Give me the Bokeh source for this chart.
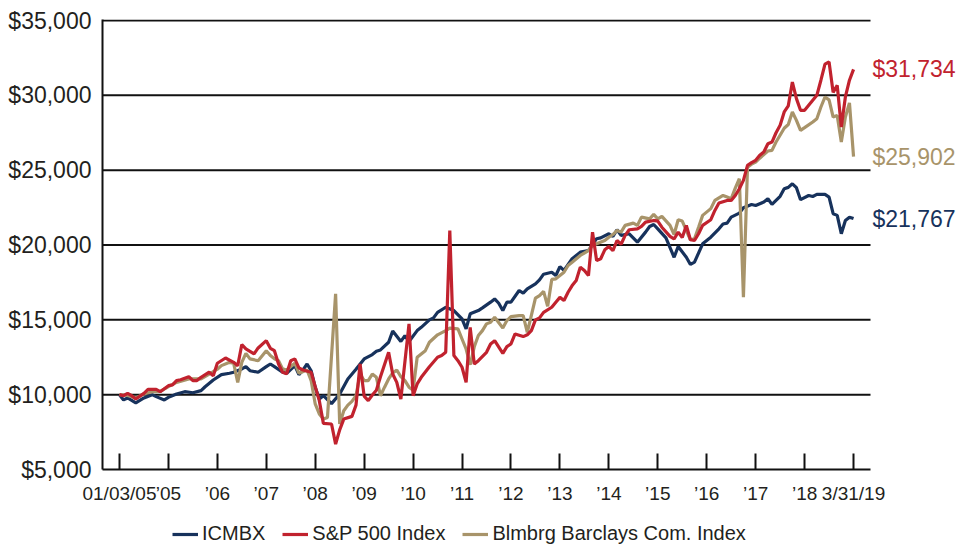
from bokeh.plotting import figure
from bokeh.layouts import column
from bokeh.models import (FixedTicker, NumeralTickFormatter, Range1d, Legend,
                          LegendItem)
from bokeh.core.properties import value
from bokeh.embed import file_html
from bokeh.resources import INLINE

# ---------------- data (month index from 01/03/05) ----------------
x_tick_months = [0, 12, 24, 36, 48, 60, 72, 84, 96, 108, 120, 132, 144, 156, 168, 180]
x_tick_labels = ["01/03/05", "\u201905", "\u201906", "\u201907", "\u201908", "\u201909",
                 "\u201910", "\u201911", "\u201912", "\u201913", "\u201914", "\u201915",
                 "\u201916", "\u201917", "\u201918", "3/31/19"]
y_ticks = [5000, 10000, 15000, 20000, 25000, 30000, 35000]

icmbx_month = [0, 1, 2, 4, 6, 8, 9, 11, 12, 14,
               16, 18, 20, 21, 23, 25, 27, 28, 30, 31,
               32, 34, 36, 37, 38, 40, 41, 43, 44, 45,
               46, 47, 48, 49, 50, 52, 54, 56, 58, 60,
               62, 63, 64, 66, 67, 69, 70, 71, 73, 74,
               76, 77, 78, 80, 82, 84, 85, 86, 88, 89,
               91, 92, 93, 94, 95, 96, 98, 99, 100, 102,
               103, 104, 106, 107, 108, 109, 111, 113, 115, 117,
               118, 120, 121, 122, 123, 125, 127, 129, 130, 131,
               132, 134, 136, 137, 139, 140, 141, 143, 145, 147,
               148, 149, 150, 152, 153, 155, 156, 158, 159, 160,
               162, 163, 164, 165, 166, 167, 169, 170, 171, 173,
               174, 175, 176, 177, 178, 179, 180]
icmbx_value = [10000, 9650, 9780, 9450, 9780, 10000, 9870, 9650, 9820, 10050,
               10200, 10130, 10270, 10530, 10980, 11340, 11430, 11500, 11720, 11870,
               11600, 11500, 11870, 12050, 11870, 11500, 11430, 11940, 11340, 11650,
               12050, 11600, 10490, 9710, 9930, 9400, 10050, 11050, 11700, 12390,
               12680, 12900, 12990, 13500, 14250, 13560, 13950, 13550, 14280, 14500,
               15000, 15130, 15500, 15840, 15620, 15060, 14400, 15400, 15620, 15800,
               16180, 16400, 16110, 15620, 16180, 16180, 16960, 16780, 17070, 17400,
               17670, 18050, 18180, 17960, 18560, 18300, 19080, 19520, 19630, 20420,
               20480, 20750, 20570, 21020, 20640, 20750, 20190, 20860, 21240, 21370,
               21080, 20480, 19180, 19900, 19180, 18700, 18850, 20080, 20520, 21080,
               21400, 21460, 21860, 22130, 22490, 22710, 22640, 22870, 23090, 22710,
               23250, 23760, 23850, 24090, 23830, 23030, 23310, 23240, 23380, 23380,
               23200, 22090, 21980, 20750, 21640, 21860, 21767]

sp500_month = [0, 1, 2, 3, 4, 6, 7, 9, 10, 12,
               13, 14, 15, 17, 18, 19, 20, 22, 23, 24,
               26, 28, 29, 30, 31, 33, 34, 36, 37, 38,
               39, 40, 41, 42, 43, 44, 45, 47, 48, 49,
               50, 52, 53, 54, 55, 57, 58, 59, 60, 61,
               62, 63, 64, 66, 67, 68, 69, 71, 72, 73,
               74, 76, 78, 79, 80, 81, 82, 83, 84, 85,
               86, 87, 88, 90, 91, 92, 94, 95, 96, 97,
               99, 100, 101, 102, 103, 104, 106, 107, 108, 109,
               110, 111, 112, 113, 114, 115, 116, 117, 118, 119,
               120, 121, 122, 123, 124, 125, 127, 128, 129, 131,
               132, 133, 135, 136, 137, 138, 139, 140, 141, 142,
               143, 145, 146, 147, 149, 150, 151, 152, 153, 154,
               155, 156, 157, 158, 159, 160, 161, 162, 163, 164,
               165, 166, 167, 168, 170, 171, 172, 173, 174, 175,
               176, 177, 178, 179, 180]
sp500_value = [10000, 9930, 10090, 9930, 9710, 10090, 10350, 10350, 10200, 10600,
               10650, 10940, 11000, 11200, 10940, 10940, 11160, 11500, 11270, 12100,
               12450, 12160, 11940, 13350, 13060, 12720, 13120, 13610, 13100, 12940,
               12050, 11500, 11400, 12270, 12390, 11790, 11650, 11500, 10540, 9600,
               8080, 8040, 6700, 7650, 8370, 8550, 9300, 12050, 9900, 9600,
               9980, 10300, 11200, 12830, 11380, 10820, 9700, 14730, 9930, 10720,
               11160, 11870, 12500, 12610, 12830, 20970, 12610, 12270, 11830, 10820,
               14500, 12050, 12270, 12830, 13390, 13610, 12760, 13210, 13390, 14060,
               13880, 14000, 14280, 15000, 15130, 15500, 15840, 16180, 16500, 16290,
               16840, 17290, 17630, 18520, 18300, 17960, 20860, 18960, 19080, 19680,
               19900, 19630, 20300, 20050, 20640, 21020, 21080, 21240, 21530, 21640,
               21600, 21190, 20580, 20400, 20860, 20500, 21300, 20350, 20300, 20750,
               21310, 21690, 22310, 22800, 22980, 22980, 23310, 23760, 24320, 25320,
               25500, 25660, 25990, 26210, 26770, 26880, 27500, 28000, 28890, 29300,
               30890, 29780, 29000, 29000, 29670, 30000, 31010, 32080, 32230, 30200,
               30670, 27880, 29890, 31010, 31734]

bbci_month = [0, 2, 4, 6, 8, 10, 12, 14, 17, 20,
              22, 24, 25, 27, 28, 29, 30, 31, 32, 34,
              36, 37, 38, 39, 40, 41, 43, 44, 46, 47,
              48, 49, 50, 51, 53, 54, 55, 56, 57, 58,
              59, 60, 61, 62, 63, 64, 65, 66, 67, 68,
              69, 70, 71, 72, 73, 74, 75, 76, 78, 80,
              81, 83, 84, 85, 86, 87, 88, 89, 90, 91,
              92, 94, 95, 96, 98, 99, 100, 101, 102, 103,
              104, 105, 106, 107, 109, 110, 111, 113, 115, 116,
              117, 119, 120, 121, 122, 123, 124, 126, 127, 128,
              130, 131, 132, 133, 135, 136, 137, 138, 139, 140,
              141, 142, 143, 145, 146, 148, 149, 150, 151, 152,
              153, 154, 155, 156, 157, 159, 160, 161, 163, 164,
              165, 166, 167, 168, 170, 171, 172, 173, 174, 175,
              176, 177, 178, 179, 180]
bbci_value = [10000, 9950, 9780, 10050, 10200, 10220, 10540, 10820, 11050, 11050,
              11380, 11700, 11940, 12160, 12100, 10820, 12160, 12760, 12390, 12270,
              12940, 12610, 12400, 12270, 11720, 11650, 12100, 11430, 11650, 10940,
              9380, 8710, 8370, 8480, 16740, 8040, 8930, 9300, 9550, 9930,
              11380, 10940, 10940, 11380, 11160, 9930, 10500, 11050, 11450, 11650,
              11200, 10940, 10500, 10300, 12500, 12720, 12940, 13500, 14000, 14280,
              14450, 14390, 13720, 13050, 12000, 13200, 13950, 14280, 14730, 14840,
              15170, 14460, 14950, 15220, 15280, 15280, 14170, 15300, 16450, 16620,
              16900, 15900, 17700, 17740, 18180, 18630, 18850, 19300, 19630, 19970,
              20080, 20300, 20520, 20700, 20970, 20860, 21310, 21460, 21310, 21860,
              21750, 22040, 21750, 21910, 21310, 20700, 21690, 21600, 20970, 20350,
              20420, 21190, 21980, 22430, 22980, 23310, 23200, 23090, 23800, 24430,
              16510, 25200, 25400, 25540, 25800, 26280, 26320, 26880, 27800, 28050,
              28890, 28330, 27660, 27840, 28220, 28440, 29220, 29890, 29700, 28550,
              28660, 26880, 28550, 29490, 25902]

series_names = ["ICMBX", "S&P 500 Index", "Blmbrg Barclays Com. Index"]
NAVY = "#17325c"
RED = "#c1222e"
TAN = "#a8946a"
TEXT = "#231f20"
AXIS = "#111111"
FONT = "Liberation Sans"

# ---------------- geometry ----------------
W, H_MAIN, H_LEG = 956, 517, 28
LEFT, TOP, BOTTOM = 102, 19, 48
GRID_RIGHT_PX = 870                     # where grid lines / x axis stop
x_start, x_grid_end = -4.16, 184.16     # months at frame left / grid end
x_end = x_start + (x_grid_end - x_start) * (W - LEFT) / (GRID_RIGHT_PX - LEFT)

# ---------------- main chart ----------------
p = figure(width=W, height=H_MAIN, output_backend="svg", toolbar_location=None,
           x_range=Range1d(x_start, x_end), y_range=Range1d(5000, 35067),
           min_border_left=LEFT, min_border_right=0, min_border_top=TOP,
           min_border_bottom=BOTTOM)
p.outline_line_color = None
p.background_fill_color = "white"
p.border_fill_color = "white"
p.xgrid.visible = False
p.ygrid.visible = False

# horizontal grid lines that stop at the end of the data area
grid_vals = y_ticks[1:]
p.segment(x0=[x_start] * len(grid_vals), y0=grid_vals,
          x1=[x_grid_end] * len(grid_vals), y1=grid_vals,
          line_color=AXIS, line_width=2)

ya = p.yaxis[0]
ya.ticker = FixedTicker(ticks=y_ticks)
ya.formatter = NumeralTickFormatter(format="$0,0")
ya.major_tick_in = 0
ya.major_tick_out = 0
ya.minor_tick_in = 0
ya.minor_tick_out = 0
ya.axis_line_color = AXIS
ya.axis_line_width = 2
ya.major_label_standoff = 11
ya.major_label_text_font = FONT
ya.major_label_text_font_size = "23px"
ya.major_label_text_color = TEXT

xa = p.xaxis[0]
xa.ticker = FixedTicker(ticks=x_tick_months)
xa.major_label_overrides = {m: lab for m, lab in zip(x_tick_months, x_tick_labels)}
xa.bounds = (x_start, x_grid_end)
xa.major_tick_in = 16
xa.major_tick_out = 0
xa.minor_tick_in = 0
xa.minor_tick_out = 0
xa.major_tick_line_color = AXIS
xa.major_tick_line_width = 2
xa.axis_line_color = AXIS
xa.axis_line_width = 2
xa.major_label_standoff = 13
xa.major_label_text_font = FONT
xa.major_label_text_font_size = "19px"
xa.major_label_text_color = TEXT

p.line(icmbx_month, icmbx_value, line_color=NAVY, line_width=3.2)
p.line(bbci_month, bbci_value, line_color=TAN, line_width=3.2)
p.line(sp500_month, sp500_value, line_color=RED, line_width=3.2)

# end-value labels
end_values = [sp500_value[-1], bbci_value[-1], icmbx_value[-1]]
end_texts = ["${:,.0f}".format(v) for v in end_values]
end_colors = [RED, TAN, NAVY]
p.text(x=[x_grid_end] * 3, y=end_values, text=end_texts, text_color=end_colors,
       text_font=value(FONT), text_font_size=value("23px"),
       text_baseline="middle", text_align="left", x_offset=2)

# ---------------- legend strip ----------------
p_leg = figure(width=W, height=H_LEG, output_backend="svg", toolbar_location=None,
               x_range=Range1d(0, 1), y_range=Range1d(0, 1),
               x_axis_location=None, y_axis_location=None,
               min_border_left=0, min_border_right=0, min_border_top=0,
               min_border_bottom=0)
p_leg.outline_line_color = None
p_leg.grid.visible = False
# same series (outside this strip's visible range) so the legend shows their line style
g_navy = p_leg.line(icmbx_month, icmbx_value, line_color=NAVY, line_width=3.2)
g_red = p_leg.line(sp500_month, sp500_value, line_color=RED, line_width=3.2)
g_tan = p_leg.line(bbci_month, bbci_value, line_color=TAN, line_width=3.2)
legend = Legend(items=[LegendItem(label=series_names[0], renderers=[g_navy]),
                       LegendItem(label=series_names[1], renderers=[g_red]),
                       LegendItem(label=series_names[2], renderers=[g_tan])],
                orientation="horizontal", location=(70, 0),
                background_fill_alpha=0, border_line_color=None,
                padding=0, margin=0, spacing=17, label_standoff=4,
                glyph_width=26, glyph_height=16, label_height=16,
                label_text_font=FONT, label_text_font_size="20px",
                label_text_color=TEXT)
p_leg.add_layout(legend)

layout = column(p, p_leg, spacing=0)
open("out.html", "w").write(file_html(layout, INLINE))
